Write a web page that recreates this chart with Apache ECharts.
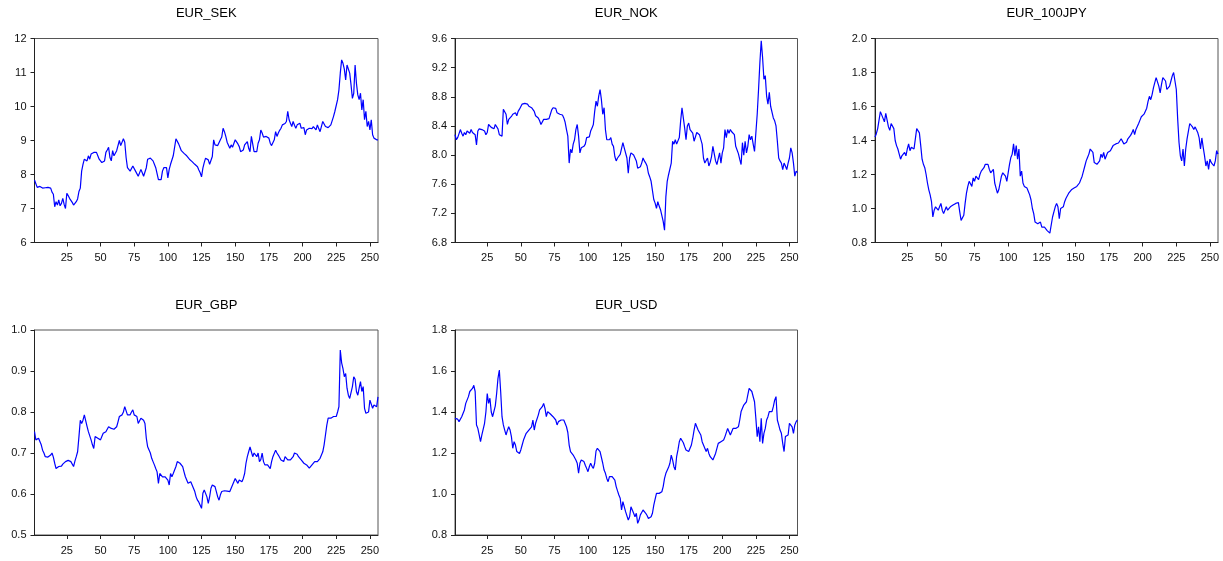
<!DOCTYPE html>
<html>
<head>
<meta charset="utf-8">
<script src="https://cdn.jsdelivr.net/npm/echarts@6/dist/echarts.min.js"></script>
<style>html,body{margin:0;padding:0;background:#fff}#c{width:1223px;height:561px}</style>
</head>
<body>
<div id="c"></div>
<script>
// ---- data (observation index 1..256) ----
const titles = ["EUR_SEK", "EUR_NOK", "EUR_100JPY", "EUR_GBP", "EUR_USD"];
const xTickLabels = [25, 50, 75, 100, 125, 150, 175, 200, 225, 250];

const eurSek = [
7.84,7.80,7.62,7.60,7.65,7.62,7.60,7.63,7.61,7.64,
7.62,7.66,7.60,7.48,7.42,7.05,7.20,7.10,7.25,7.08,
7.15,7.30,7.12,7.00,7.45,7.38,7.30,7.25,7.18,7.10,
7.12,7.20,7.28,7.50,7.60,8.10,8.30,8.45,8.50,8.40,
8.55,8.45,8.60,8.55,8.65,8.70,8.65,8.55,8.45,8.40,
8.35,8.38,8.40,8.65,8.72,8.80,8.50,8.40,8.70,8.55,
8.60,8.70,8.65,9.00,8.85,8.90,9.05,8.95,8.50,8.20,
8.15,8.10,8.05,8.25,8.20,8.10,8.05,7.95,8.00,8.15,
8.05,7.95,8.00,8.20,8.45,8.40,8.48,8.45,8.40,8.30,
8.20,8.15,7.85,7.88,7.85,8.10,8.20,8.25,8.20,7.90,
8.15,8.30,8.25,8.55,8.50,9.05,9.00,8.90,8.80,8.70,
8.65,8.62,8.60,8.55,8.50,8.45,8.40,8.38,8.35,8.30,
8.33,8.23,8.13,8.05,7.93,8.19,8.35,8.48,8.53,8.43,
8.30,8.28,8.53,9.02,8.87,8.92,8.85,8.82,9.02,9.10,
9.36,9.26,9.12,8.95,8.92,8.77,8.87,8.80,8.77,9.02,
8.97,8.90,8.82,8.67,8.70,8.72,8.87,8.92,8.97,8.77,
8.67,9.12,9.10,8.67,8.62,8.67,8.92,9.02,9.31,9.22,
9.10,9.07,9.12,9.10,9.07,8.92,8.85,8.82,9.02,9.26,
9.12,9.22,9.30,9.36,9.46,9.41,9.50,9.56,9.86,9.61,
9.51,9.41,9.56,9.45,9.36,9.46,9.41,9.51,9.36,9.41,
9.38,9.17,9.31,9.30,9.36,9.31,9.35,9.41,9.46,9.31,
9.46,9.35,9.26,9.30,9.56,9.61,9.41,9.36,9.38,9.41,
9.46,9.50,9.71,9.86,9.90,10.20,10.49,10.98,11.37,11.27,
11.10,10.78,11.22,11.18,10.98,10.63,10.24,10.39,11.22,10.68,
10.34,10.20,10.39,9.90,10.20,9.61,9.86,9.41,9.56,9.31,
9.61,9.17,9.07,9.05,9.02,9.02];

const eurNok = [
8.28,8.21,8.24,8.26,8.35,8.30,8.26,8.31,8.28,8.33,
8.31,8.30,8.35,8.31,8.30,8.28,8.14,8.33,8.36,8.35,
8.35,8.34,8.33,8.28,8.31,8.42,8.40,8.38,8.37,8.36,
8.42,8.40,8.36,8.28,8.30,8.26,8.63,8.64,8.56,8.42,
8.49,8.51,8.53,8.56,8.55,8.58,8.54,8.60,8.63,8.65,
8.70,8.72,8.71,8.70,8.70,8.67,8.66,8.65,8.63,8.60,
8.54,8.53,8.51,8.47,8.42,8.44,8.49,8.47,8.49,8.47,
8.50,8.56,8.62,8.65,8.65,8.64,8.58,8.57,8.56,8.54,
8.55,8.51,8.45,8.35,8.26,7.89,8.08,8.03,8.15,8.21,
8.35,8.42,8.26,8.03,8.10,8.12,8.12,8.15,8.24,8.26,
8.25,8.33,8.37,8.42,8.60,8.74,8.67,8.81,8.90,8.76,
8.56,8.65,8.35,8.21,8.19,8.21,8.24,8.15,8.12,7.98,
7.92,7.96,7.96,8.01,7.99,8.17,8.10,8.12,7.96,7.75,
7.96,8.03,8.03,8.00,7.98,7.92,7.82,7.84,7.84,7.89,
7.96,7.92,7.89,7.85,7.75,7.70,7.64,7.62,7.39,7.34,
7.27,7.36,7.30,7.25,7.23,7.09,6.97,7.43,7.64,7.73,
7.75,7.89,8.19,8.15,8.21,8.15,8.15,8.24,8.47,8.65,
8.63,8.37,8.21,8.40,8.44,8.35,8.35,8.30,8.19,8.21,
8.31,8.30,8.28,8.26,8.15,7.96,7.89,7.90,7.96,7.85,
7.90,7.98,8.12,8.10,7.92,7.87,7.95,8.03,7.89,8.03,
8.10,8.35,8.24,8.35,8.30,8.35,8.32,8.33,8.28,8.12,
8.10,8.02,7.94,7.87,8.17,8.00,8.19,8.03,8.12,8.28,
8.21,8.26,8.15,8.05,8.03,8.56,8.90,9.27,9.57,9.34,
9.04,9.09,8.81,8.70,8.86,8.67,8.65,8.51,8.47,8.40,
8.19,7.96,7.92,7.89,7.80,7.89,7.85,7.80,7.89,7.96,
8.10,8.03,7.89,7.71,7.78,7.76];

const eurJpy = [
1.42,1.44,1.47,1.52,1.57,1.58,1.53,1.51,1.56,1.55,
1.48,1.46,1.50,1.49,1.47,1.40,1.37,1.35,1.32,1.29,
1.31,1.32,1.33,1.31,1.35,1.38,1.34,1.36,1.36,1.35,
1.41,1.47,1.475,1.445,1.37,1.29,1.26,1.24,1.20,1.15,
1.11,1.08,1.04,0.95,0.99,1.01,1.00,0.99,1.01,1.03,
0.99,0.97,0.98,1.01,0.99,0.995,1.01,1.02,1.02,1.025,
1.03,1.04,1.035,0.98,0.93,0.92,0.96,1.03,1.09,1.13,
1.16,1.15,1.13,1.18,1.16,1.19,1.18,1.17,1.20,1.22,
1.23,1.24,1.26,1.27,1.26,1.23,1.21,1.21,1.23,1.15,
1.12,1.09,1.11,1.15,1.19,1.21,1.22,1.19,1.16,1.21,
1.26,1.30,1.32,1.38,1.31,1.37,1.29,1.35,1.19,1.22,
1.15,1.13,1.13,1.12,1.10,1.08,1.05,1.00,0.97,0.92,
0.93,0.91,0.92,0.92,0.89,0.90,0.89,0.88,0.87,0.865,
0.855,0.845,0.95,0.98,1.01,1.03,1.01,0.94,1.00,1.00,
1.01,1.04,1.06,1.07,1.09,1.10,1.11,1.12,1.12,1.13,
1.13,1.12,1.15,1.17,1.19,1.22,1.25,1.28,1.30,1.32,
1.35,1.36,1.33,1.27,1.26,1.26,1.27,1.28,1.32,1.30,
1.33,1.29,1.31,1.33,1.34,1.34,1.35,1.37,1.37,1.38,
1.39,1.385,1.39,1.41,1.41,1.38,1.38,1.39,1.41,1.42,
1.43,1.445,1.465,1.435,1.465,1.475,1.50,1.52,1.54,1.55,
1.555,1.56,1.59,1.63,1.66,1.64,1.67,1.71,1.74,1.77,
1.76,1.72,1.68,1.73,1.77,1.76,1.75,1.70,1.70,1.72,
1.75,1.78,1.80,1.79,1.70,1.53,1.39,1.31,1.28,1.35,
1.25,1.35,1.41,1.455,1.50,1.50,1.48,1.465,1.48,1.475,
1.445,1.415,1.35,1.415,1.36,1.31,1.25,1.28,1.23,1.29,
1.27,1.28,1.25,1.28,1.34,1.32];

const eurGbp = [
0.752,0.732,0.728,0.736,0.732,0.720,0.707,0.700,0.691,0.690,
0.690,0.692,0.695,0.700,0.690,0.675,0.662,0.662,0.667,0.671,
0.668,0.673,0.676,0.679,0.683,0.682,0.680,0.679,0.676,0.667,
0.680,0.691,0.703,0.740,0.780,0.772,0.780,0.793,0.789,0.765,
0.752,0.748,0.732,0.720,0.711,0.740,0.744,0.736,0.732,0.732,
0.740,0.748,0.748,0.752,0.756,0.764,0.760,0.760,0.756,0.758,
0.760,0.764,0.776,0.789,0.793,0.793,0.800,0.813,0.809,0.793,
0.793,0.793,0.800,0.805,0.793,0.793,0.789,0.772,0.772,0.785,
0.789,0.780,0.772,0.736,0.715,0.711,0.700,0.687,0.679,0.671,
0.662,0.654,0.626,0.650,0.654,0.642,0.646,0.642,0.638,0.634,
0.622,0.650,0.642,0.650,0.648,0.667,0.679,0.683,0.675,0.672,
0.667,0.654,0.642,0.634,0.626,0.622,0.630,0.626,0.614,0.606,
0.593,0.585,0.580,0.577,0.565,0.602,0.610,0.606,0.593,0.577,
0.593,0.614,0.622,0.626,0.618,0.606,0.593,0.585,0.598,0.606,
0.610,0.608,0.610,0.607,0.606,0.606,0.614,0.622,0.630,0.638,
0.634,0.626,0.634,0.630,0.630,0.638,0.650,0.675,0.691,0.703,
0.715,0.703,0.691,0.700,0.696,0.691,0.700,0.679,0.684,0.700,
0.679,0.671,0.674,0.671,0.674,0.662,0.679,0.691,0.695,0.707,
0.700,0.695,0.691,0.683,0.681,0.679,0.691,0.687,0.683,0.687,
0.683,0.687,0.691,0.700,0.703,0.697,0.691,0.695,0.683,0.679,
0.675,0.675,0.671,0.667,0.663,0.659,0.671,0.675,0.679,0.675,
0.679,0.675,0.687,0.695,0.703,0.720,0.744,0.768,0.785,0.789,
0.785,0.789,0.789,0.793,0.789,0.800,0.813,0.951,0.920,0.906,
0.886,0.894,0.858,0.841,0.833,0.836,0.862,0.886,0.880,0.850,
0.841,0.858,0.874,0.850,0.862,0.809,0.797,0.797,0.800,0.829,
0.833,0.809,0.817,0.815,0.813,0.837];

const eurUsd = [
1.369,1.361,1.365,1.353,1.361,1.377,1.369,1.410,1.442,1.450,
1.475,1.500,1.507,1.515,1.530,1.500,1.337,1.320,1.288,1.255,
1.288,1.296,1.345,1.400,1.490,1.442,1.467,1.400,1.377,1.380,
1.430,1.490,1.564,1.605,1.500,1.377,1.337,1.312,1.288,1.310,
1.328,1.312,1.280,1.223,1.255,1.239,1.207,1.198,1.198,1.215,
1.239,1.263,1.272,1.296,1.304,1.312,1.312,1.328,1.361,1.312,
1.345,1.353,1.385,1.410,1.402,1.426,1.442,1.418,1.377,1.402,
1.393,1.390,1.393,1.377,1.370,1.361,1.337,1.353,1.350,1.361,
1.369,1.361,1.353,1.328,1.300,1.239,1.207,1.198,1.190,1.182,
1.166,1.150,1.101,1.150,1.166,1.174,1.158,1.140,1.125,1.109,
1.133,1.150,1.135,1.125,1.150,1.210,1.223,1.215,1.207,1.198,
1.150,1.117,1.101,1.076,1.060,1.085,1.093,1.085,1.080,1.068,
1.036,1.015,0.995,0.979,0.922,0.963,0.938,0.914,0.906,0.873,
0.889,0.938,0.946,0.906,0.889,0.906,0.857,0.873,0.898,0.910,
0.922,0.914,0.906,0.895,0.881,0.881,0.889,0.906,0.946,0.975,
1.003,1.003,1.003,1.005,1.011,1.036,1.076,1.101,1.109,1.130,
1.150,1.190,1.166,1.133,1.117,1.182,1.215,1.255,1.272,1.263,
1.250,1.231,1.215,1.215,1.207,1.223,1.239,1.272,1.312,1.345,
1.345,1.312,1.304,1.288,1.255,1.255,1.223,1.207,1.223,1.198,
1.182,1.190,1.166,1.182,1.198,1.223,1.247,1.247,1.255,1.260,
1.263,1.280,1.288,1.320,1.304,1.288,1.304,1.320,1.312,1.320,
1.328,1.328,1.361,1.402,1.418,1.434,1.426,1.450,1.483,1.515,
1.507,1.500,1.507,1.450,1.369,1.280,1.328,1.255,1.369,1.247,
1.296,1.320,1.361,1.377,1.402,1.393,1.402,1.426,1.458,1.475,
1.361,1.337,1.312,1.296,1.247,1.207,1.280,1.272,1.288,1.345,
1.353,1.328,1.296,1.337,1.353,1.361];

const yMins = [6, 6.8, 0.8, 0.5, 0.8];
const yMaxs = [12, 9.6, 2.0, 1.0, 1.8];
const yIntervals = [1, 0.4, 0.2, 0.1, 0.2];
const yDecimals = [0, 1, 1, 1, 1];

// ---- chart ----
const seriesData = [eurSek, eurNok, eurJpy, eurGbp, eurUsd];
const categories = eurSek.map((_, i) => String(i + 1));
const tickSet = new Set(xTickLabels.map(String));

const panels = [
  {left: 34.5, top: 38.5, width: 343.5, height: 204, titleTop: 7},
  {left: 455, top: 38.5, width: 342.5, height: 204, titleTop: 7},
  {left: 875, top: 38.5, width: 343, height: 204, titleTop: 7},
  {left: 34.5, top: 330, width: 343.5, height: 205, titleTop: 299},
  {left: 455, top: 330, width: 342.5, height: 205, titleTop: 299}
];

const FONT = '"Liberation Sans", Arial, sans-serif';
const option = {
  animation: false,
  backgroundColor: '#ffffff',
  title: panels.map((p, k) => ({
    text: titles[k],
    left: p.left + p.width / 2,
    top: p.titleTop,
    padding: 0,
    textAlign: 'center',
    textStyle: {fontFamily: FONT, fontSize: 13, fontWeight: 'normal', color: '#000'}
  })),
  grid: panels.map(p => ({
    left: p.left, top: p.top, width: p.width, height: p.height,
    show: true, borderColor: '#555', borderWidth: 1, backgroundColor: 'transparent',
    containLabel: false
  })),
  xAxis: panels.map((p, k) => ({
    type: 'category',
    gridIndex: k,
    data: categories,
    boundaryGap: false,
    axisLine: {show: true, lineStyle: {color: '#222', width: 1}},
    axisTick: {show: true, length: 4, inside: false, lineStyle: {color: '#222'},
      interval: (i, v) => tickSet.has(v)},
    axisLabel: {show: true, margin: 10, fontFamily: FONT, fontSize: 11, color: '#111',
      interval: (i, v) => tickSet.has(v)},
    splitLine: {show: false}
  })),
  yAxis: panels.map((p, k) => ({
    type: 'value',
    gridIndex: k,
    min: yMins[k], max: yMaxs[k], interval: yIntervals[k],
    axisLine: {show: true, lineStyle: {color: '#222', width: 1}},
    axisTick: {show: true, length: 4, inside: false, lineStyle: {color: '#222'}},
    axisLabel: {show: true, margin: 8, fontFamily: FONT, fontSize: 11, color: '#111',
      formatter: v => Number(v).toFixed(yDecimals[k])},
    splitLine: {show: false}
  })),
  series: seriesData.map((d, k) => ({
    type: 'line',
    xAxisIndex: k, yAxisIndex: k,
    data: d,
    showSymbol: false,
    symbol: 'none',
    lineStyle: {color: '#0000ff', width: 1.2},
    silent: true
  }))
};

const chart = echarts.init(document.getElementById('c'), null, {renderer: 'canvas'});
chart.setOption(option);
</script>
</body>
</html>
